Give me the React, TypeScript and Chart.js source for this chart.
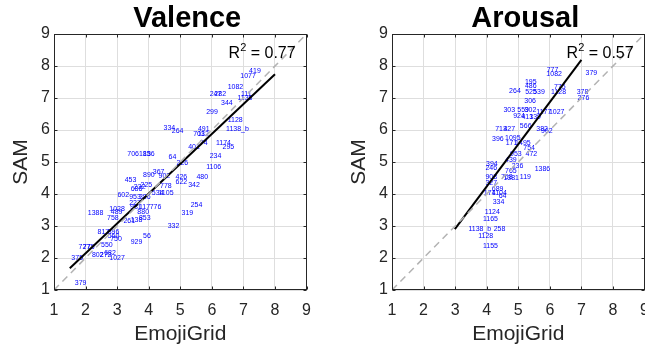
import React, { useEffect, useRef } from 'react';
import { Chart, registerables } from 'chart.js';

Chart.register(...registerables);

const FONT = '"Liberation Sans", Arial, Helvetica, sans-serif';

// Axis tick values (both axes, both panels)
const axisTicks = [1, 2, 3, 4, 5, 6, 7, 8, 9];

// Identity line
const diagonalX = [1, 9];
const diagonalY = [1, 9];

// ---------- Valence ----------
const valenceLabels = [
  '379', '375', '727', '775', '802', '272', '682', '1027', '550', '817',
  '896', '560', '750', '929', '56', '332', '758', '1388', '1028', '489',
  '261', '138', '853', '880', '117', '776', '981', '227', '602', '953',
  '386', '686', '232', '225', '453', '890', '367', '902', '778', '534',
  '1105', '426', '622', '64', '226', '706', '185', '136', '334', '264',
  '480', '342', '254', '319', '234', '1106', '401', '74', '703', '112',
  '491', '1174', '295', '1138_b', '1128', '299', '344', '247', '282', '111',
  '1136', '1082', '1077', '419',
];
const valenceX = [
  1.66, 1.55, 1.78, 1.92, 2.2, 2.45, 2.59, 2.75, 2.49, 2.38,
  2.7, 2.7, 2.78, 3.43, 3.82, 4.6, 2.68, 2.07, 2.75, 2.8,
  3.2, 3.43, 3.69, 3.64, 3.69, 4.03, 3.41, 3.38, 3.01, 3.38,
  3.69, 3.43, 3.53, 3.74, 3.24, 3.82, 4.13, 4.31, 4.36, 4.1,
  4.31, 4.85, 4.85, 4.63, 4.88, 3.32, 3.69, 3.82, 4.47, 4.73,
  5.51, 5.25, 5.33, 5.04, 5.93, 5.82, 5.25, 5.62, 5.41, 5.55,
  5.56, 6.13, 6.34, 6.45, 6.5, 5.82, 6.29, 5.93, 6.08, 6.92,
  6.81, 6.5, 6.9, 7.18,
];
const valenceY = [
  1.22, 1.99, 2.33, 2.33, 2.09, 2.09, 2.15, 1.99, 2.41, 2.82,
  2.82, 2.69, 2.58, 2.51, 2.69, 3.01, 3.26, 3.4, 3.52, 3.42,
  3.14, 3.17, 3.24, 3.45, 3.6, 3.6, 3.6, 3.71, 3.96, 3.9,
  3.9, 4.15, 4.23, 4.29, 4.42, 4.6, 4.67, 4.57, 4.25, 4.04,
  4.04, 4.54, 4.38, 5.14, 4.97, 5.25, 5.25, 5.25, 6.05, 5.98,
  4.52, 4.28, 3.66, 3.4, 5.17, 4.83, 5.48, 5.6, 5.87, 5.87,
  6.02, 5.58, 5.48, 6.02, 6.31, 6.56, 6.83, 7.13, 7.13, 7.13,
  7.01, 7.33, 7.67, 7.84,
];
const valenceFitX = [1.5, 8.0];
const valenceFitY = [1.68, 7.74];
const valenceR2 = '0.77';

// ---------- Arousal ----------
const arousalLabels = [
  '777', '1082', '379', '195', '486', '264', '525', '539', '775', '1128',
  '378', '276', '306', '303', '559', '302', '1177', '1027', '924', '413',
  '139', '566', '382', '962', '713', '427', '396', '1095', '171', '1495',
  '754', '953', '472', '439', '236', '394', '246', '1386', '765', '908',
  '758', '119', '1381', '327', '689', '174', '1104', '64', '334', '1124',
  '1165', '1138_b', '258', '1128', '1155',
];
const arousalX = [
  5.9, 5.89, 7.13, 5.21, 5.21, 4.71, 5.22, 5.47, 6.13, 6.04,
  6.85, 6.88, 5.19, 4.53, 4.97, 5.2, 5.57, 5.97, 4.84, 5.1,
  5.35, 5.05, 5.57, 5.72, 4.27, 4.53, 4.17, 4.58, 4.6, 4.9,
  5.16, 4.74, 5.23, 4.58, 4.79, 3.98, 3.96, 5.52, 4.58, 3.96,
  4.45, 5.05, 4.53, 3.96, 4.16, 3.91, 4.16, 4.38, 4.19, 3.94,
  3.88, 3.42, 4.22, 3.73, 3.88,
];
const arousalY = [
  7.86, 7.75, 7.79, 7.51, 7.38, 7.22, 7.2, 7.2, 7.34, 7.2,
  7.2, 6.99, 6.91, 6.63, 6.63, 6.63, 6.57, 6.57, 6.44, 6.4,
  6.4, 6.13, 6.02, 5.98, 6.03, 6.03, 5.72, 5.76, 5.58, 5.58,
  5.43, 5.24, 5.24, 5.06, 4.88, 4.93, 4.8, 4.77, 4.72, 4.54,
  4.54, 4.54, 4.49, 4.33, 4.15, 4.04, 4.02, 3.92, 3.74, 3.43,
  3.23, 2.91, 2.91, 2.7, 2.38,
];
const arousalFitX = [2.99, 7.0];
const arousalFitY = [2.9, 8.19];
const arousalR2 = '0.57';

type Panel = {
  title: string;
  titleCenterX: number; // in data units
  labels: string[];
  xs: number[];
  ys: number[];
  fitX: number[];
  fitY: number[];
  r2: string;
};

const panels: Panel[] = [
  { title: 'Valence', titleCenterX: 5.22, labels: valenceLabels, xs: valenceX, ys: valenceY, fitX: valenceFitX, fitY: valenceFitY, r2: valenceR2 },
  { title: 'Arousal', titleCenterX: 5.22, labels: arousalLabels, xs: arousalX, ys: arousalY, fitX: arousalFitX, fitY: arousalFitY, r2: arousalR2 },
];

const AXIS_COLOR = '#262626';

function makePlugin(p: Panel) {
  return {
    id: 'panelDecor',
    beforeDatasetsDraw(chart: any) {
      const { ctx } = chart;
      const xs = chart.scales.x;
      const ys = chart.scales.y;
      ctx.save();
      ctx.font = `7px ${FONT}`;
      ctx.fillStyle = '#0000ff';
      ctx.textAlign = 'left';
      ctx.textBaseline = 'middle';
      p.labels.forEach((lab, i) => {
        ctx.fillText(lab, xs.getPixelForValue(p.xs[i]), ys.getPixelForValue(p.ys[i]));
      });
      ctx.restore();
    },
    afterDraw(chart: any) {
      const { ctx, chartArea } = chart;
      const xs = chart.scales.x;
      const ys = chart.scales.y;
      const L = Math.round(chartArea.left) + 0.5;
      const R = Math.round(chartArea.right) - 0.5;
      const T = Math.round(chartArea.top) + 0.5;
      const B = Math.round(chartArea.bottom) - 0.5;
      ctx.save();
      ctx.strokeStyle = AXIS_COLOR;
      ctx.lineWidth = 1;
      ctx.strokeRect(L, T, R - L, B - T);
      const tl = 3;
      ctx.beginPath();
      axisTicks.forEach((v) => {
        const px = Math.round(xs.getPixelForValue(v)) + 0.5;
        ctx.moveTo(px, B); ctx.lineTo(px, B - tl);
        ctx.moveTo(px, T); ctx.lineTo(px, T + tl);
        const py = Math.round(ys.getPixelForValue(v)) + 0.5;
        ctx.moveTo(L, py); ctx.lineTo(L + tl, py);
        ctx.moveTo(R, py); ctx.lineTo(R - tl, py);
      });
      ctx.stroke();

      // Title
      ctx.fillStyle = '#000000';
      ctx.font = `bold 29px ${FONT}`;
      ctx.textAlign = 'center';
      ctx.textBaseline = 'alphabetic';
      ctx.fillText(p.title, xs.getPixelForValue(p.titleCenterX), 27);

      // R^2 annotation
      ctx.textAlign = 'left';
      let x = xs.getPixelForValue(6.53);
      const y = ys.getPixelForValue(8.25);
      ctx.font = `16px ${FONT}`;
      ctx.fillText('R', x, y);
      x += ctx.measureText('R').width;
      ctx.font = `11px ${FONT}`;
      ctx.fillText('2', x, y - 7);
      x += ctx.measureText('2').width;
      ctx.font = `16px ${FONT}`;
      ctx.fillText(' = ' + p.r2, x, y);
      ctx.restore();
    },
  };
}

function makeConfig(p: Panel): any {
  const tickFont = { size: 16, family: FONT };
  const titleFont = { size: 21, family: FONT };
  return {
    type: 'scatter',
    data: {
      datasets: [
        {
          label: 'identity',
          data: diagonalX.map((x, i) => ({ x, y: diagonalY[i] })),
          showLine: true,
          borderColor: '#b3b3b3',
          borderWidth: 1.5,
          borderDash: [7, 5],
          pointRadius: 0,
        },
        {
          label: 'fit',
          data: p.fitX.map((x, i) => ({ x, y: p.fitY[i] })),
          showLine: true,
          borderColor: '#000000',
          borderWidth: 2,
          pointRadius: 0,
        },
        {
          label: 'items',
          data: p.xs.map((x, i) => ({ x, y: p.ys[i] })),
          showLine: false,
          pointRadius: 0,
        },
      ],
    },
    options: {
      animation: false,
      responsive: false,
      maintainAspectRatio: false,
      events: [],
      layout: { padding: { left: 0, right: 12, top: 34, bottom: 0 } },
      plugins: { legend: { display: false }, tooltip: { enabled: false }, title: { display: false } },
      scales: {
        x: {
          type: 'linear',
          min: 1,
          max: 9,
          afterBuildTicks: (s: any) => { s.ticks = axisTicks.map((v) => ({ value: v })); },
          ticks: { font: tickFont, color: AXIS_COLOR, padding: 11, maxRotation: 0 },
          grid: { color: '#dedede', lineWidth: 1, drawTicks: false },
          border: { display: false },
          title: { display: true, text: 'EmojiGrid', font: titleFont, color: AXIS_COLOR, padding: { top: 0, bottom: 3 } },
          afterFit: (s: any) => { s.height = 60; },
        },
        y: {
          type: 'linear',
          min: 1,
          max: 9,
          afterBuildTicks: (s: any) => { s.ticks = axisTicks.map((v) => ({ value: v })); },
          ticks: { font: tickFont, color: AXIS_COLOR, padding: 4 },
          grid: { color: '#dedede', lineWidth: 1, drawTicks: false },
          border: { display: false },
          title: { display: true, text: 'SAM', font: titleFont, color: AXIS_COLOR, padding: { top: 9, bottom: 0 } },
          afterFit: (s: any) => { s.width = 54; },
        },
      },
    },
    plugins: [makePlugin(p)],
  };
}

function PanelChart({ panel, left }: { panel: Panel; left: number }) {
  const ref = useRef<HTMLCanvasElement | null>(null);
  useEffect(() => {
    if (!ref.current) return;
    const chart = new Chart(ref.current, makeConfig(panel));
    return () => chart.destroy();
  }, [panel]);
  return (
    <canvas
      ref={ref}
      width={322}
      height={350}
      style={{ position: 'absolute', left, top: 0, width: 322, height: 350, display: 'block' }}
    />
  );
}

export default function App() {
  return (
    <div
      style={{
        position: 'fixed',
        left: 0,
        top: 0,
        width: 645,
        height: 350,
        overflow: 'hidden',
        background: '#ffffff',
      }}
    >
      <PanelChart panel={panels[0]} left={0} />
      <PanelChart panel={panels[1]} left={338} />
    </div>
  );
}
